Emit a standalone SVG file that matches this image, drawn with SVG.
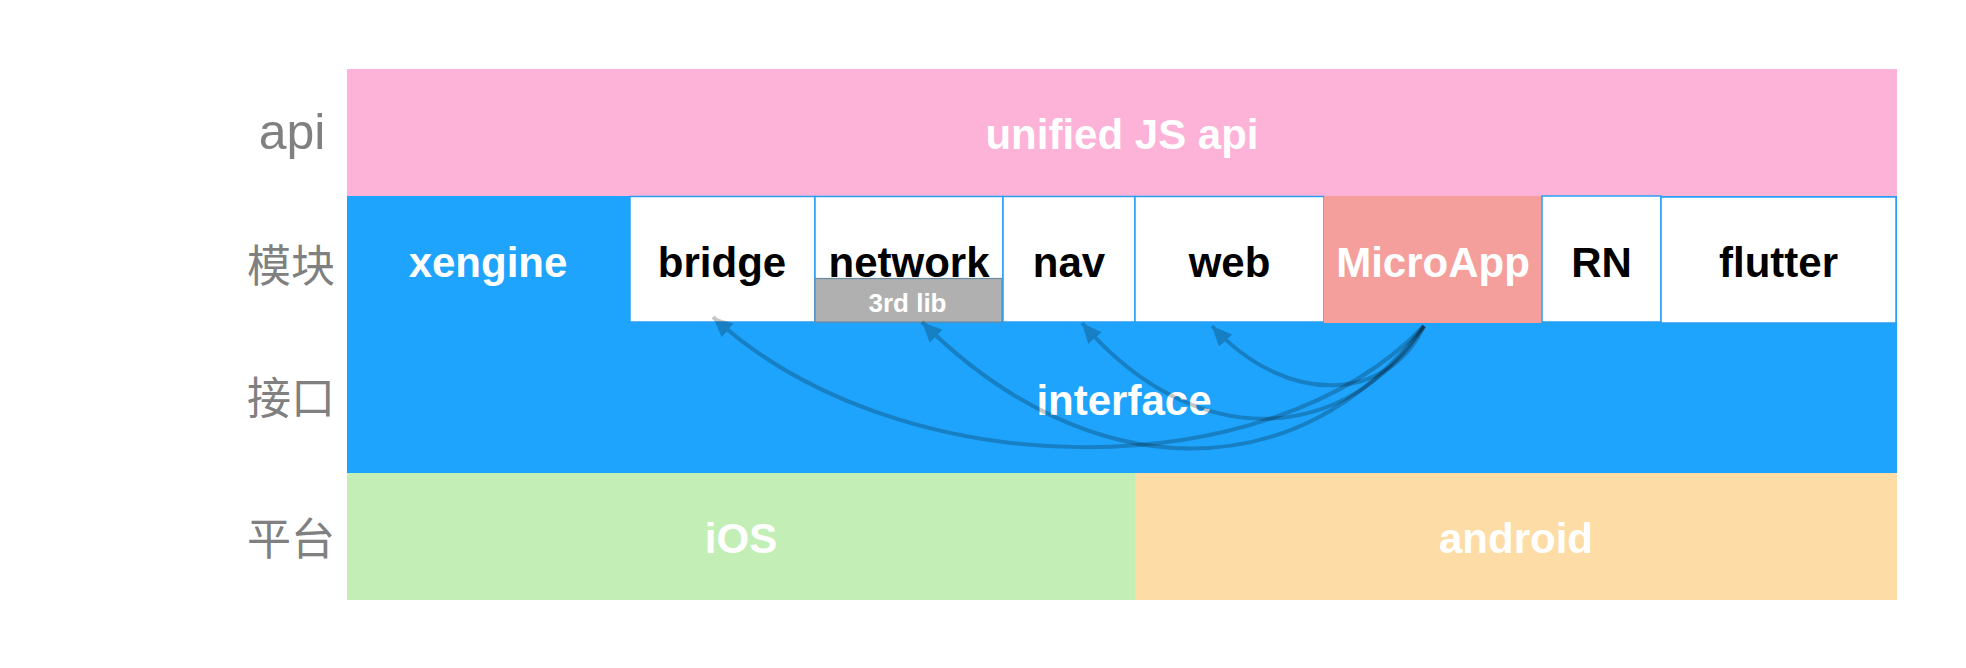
<svg xmlns="http://www.w3.org/2000/svg" width="1966" height="668" viewBox="0 0 1966 668">
<style>
.lbl{font-family:"Noto Sans CJK SC","Liberation Sans",sans-serif;font-size:44px;fill:#808080;text-anchor:middle}
.api{font-family:"Liberation Sans","DejaVu Sans",sans-serif;font-size:50px;fill:#808080;text-anchor:middle}
.t{font-family:"Liberation Sans",Arial,sans-serif;font-weight:bold;font-size:42px;text-anchor:middle}
.s{font-size:26px}
.w{fill:#ffffff}
.k{fill:#000000}
.box{fill:#ffffff;stroke:#2a9ef5;stroke-width:1.5}
.arc{fill:none;stroke:#000;stroke-width:4}
</style>
<defs>
<marker id="ah" markerUnits="userSpaceOnUse" markerWidth="22" markerHeight="22" viewBox="0 0 22 22" refX="20" refY="11" orient="auto">
<path d="M0,2 L20,11 L0,20 Z" fill="#000"/>
</marker>
</defs>
<rect width="1966" height="668" fill="#ffffff"/>
<g id="labels">
<text class="api" x="292" y="149">api</text>
<text class="lbl" x="291" y="282">模块</text>
<text class="lbl" x="291" y="414">接口</text>
<text class="lbl" x="291" y="555">平台</text>
</g>
<g id="api-layer">
<rect x="347" y="69" width="1550" height="127" fill="#fdb2d8"/>
<text class="t w" x="1122" y="149">unified JS api</text>
</g>
<g id="interface">
<rect x="347" y="196" width="1550" height="277" fill="#1ea4fd"/>
<text class="t w" x="1124" y="415">interface</text>
</g>
<g id="xengine">
<text class="t w" x="488" y="277">xengine</text>
</g>
<g id="bridge">
<rect class="box" x="630" y="196.5" width="185" height="125.5"/>
<text class="t k" x="722" y="277">bridge</text>
</g>
<g id="network">
<rect class="box" x="815" y="196.5" width="188" height="125.5"/>
<text class="t k" x="909" y="277">network</text>
</g>
<g id="thirdlib">
<rect x="815" y="278.5" width="187" height="43.5" fill="#b0b0b0" stroke="#6a8aa0" stroke-width="1.2"/>
<text class="t s w" x="907.5" y="312">3rd lib</text>
</g>
<g id="nav">
<rect class="box" x="1003" y="196.5" width="132" height="125.5"/>
<text class="t k" x="1069" y="277">nav</text>
</g>
<g id="web">
<rect class="box" x="1135" y="196.5" width="189" height="125.5"/>
<text class="t k" x="1229.5" y="277">web</text>
</g>
<g id="microapp">
<rect x="1324" y="196" width="218" height="127" fill="#f59f9c"/>
<text class="t w" x="1433" y="277">MicroApp</text>
</g>
<g id="rn">
<rect class="box" x="1542" y="196" width="119" height="126"/>
<text class="t k" x="1601.5" y="277">RN</text>
</g>
<g id="flutter">
<rect class="box" x="1661" y="197" width="235" height="126"/>
<text class="t k" x="1778.5" y="277">flutter</text>
</g>
<g id="ios">
<rect x="347" y="473" width="788" height="127" fill="#c3efb7"/>
<text class="t w" x="741" y="553">iOS</text>
</g>
<g id="android">
<rect x="1135" y="473" width="762" height="127" fill="#fddca6"/>
<text class="t w" x="1516" y="553">android</text>
</g>
<g id="connectors">
<g opacity="0.22"><path class="arc" d="M1424,326 C1267,490 900,488 713,317" marker-end="url(#ah)"/></g>
<g opacity="0.22"><path class="arc" d="M1424,326 C1300,490 1090,490 922,322" marker-end="url(#ah)"/></g>
<g opacity="0.22"><path class="arc" d="M1424,326 C1350,440 1200,460 1082,323" marker-end="url(#ah)"/></g>
<g opacity="0.22"><path class="arc" d="M1424,326 C1390,400 1290,410 1212,326" marker-end="url(#ah)"/></g>
</g>
</svg>
